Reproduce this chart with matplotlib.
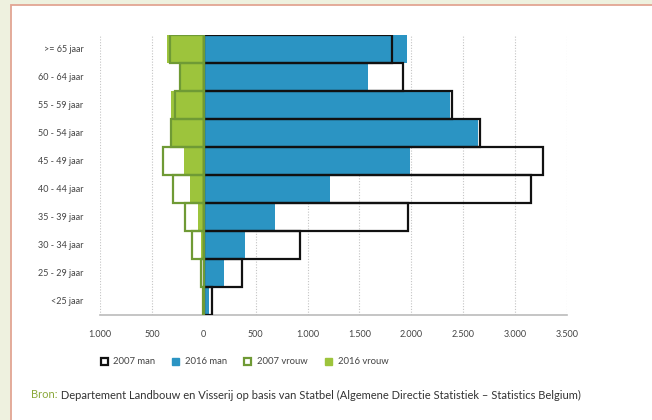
import matplotlib
matplotlib.use("Agg")
import matplotlib.pyplot as plt
from matplotlib.patches import Patch, Rectangle
from matplotlib.ticker import FuncFormatter, MultipleLocator
import numpy as np

plt.rcParams['font.family'] = ['Lato', 'DejaVu Sans']

# Age groups, top to bottom
categories = ['>= 65 jaar', '60 - 64 jaar', '55 - 59 jaar', '50 - 54 jaar', '45 - 49 jaar',
              '40 - 44 jaar', '35 - 39 jaar', '30 - 34 jaar', '25 - 29 jaar', '<25 jaar']
man_2007 = [1815, 1920, 2390, 2660, 3265, 3155, 1970, 930, 370, 75]
man_2016 = [1960, 1585, 2370, 2640, 1985, 1220, 685, 400, 195, 55]
vrouw_2007 = [330, 225, 275, 315, 390, 300, 185, 110, 25, 10]
vrouw_2016 = [350, 240, 315, 310, 190, 135, 55, 25, 10, 5]
series_labels = ['2007 man', '2016 man', '2007 vrouw', '2016 vrouw']

BLUE = '#2b94c3'
GREEN = '#9dc43c'
GREEN_EDGE = '#6f9a35'
TEXT = '#444444'

fig = plt.figure(figsize=(6.52, 4.20), dpi=100)
fig.patch.set_facecolor('#eef1df')
# white page with salmon border on the left and top
page = Rectangle((11 / 652, -0.05), 1.0, 0.05 + 415 / 420,
                 transform=fig.transFigure, facecolor='white',
                 edgecolor='#e2a593', linewidth=1.3, zorder=-10)
fig.patches.append(page)

ax = fig.add_axes([100 / 652, 1 - 315 / 420, 467 / 652, 280 / 420])
ax.set_facecolor('none')

y = np.arange(len(categories))
h = 1.0

# filled 2016 bars
ax.barh(y, man_2016, height=h, color=BLUE, linewidth=0, zorder=2)
ax.barh(y, -np.array(vrouw_2016), height=h, color=GREEN, linewidth=0, zorder=2)
# outlined 2007 bars on top
ax.barh(y, man_2007, height=h, facecolor='none', edgecolor='#111111', linewidth=1.6, zorder=3)
ax.barh(y, -np.array(vrouw_2007), height=h, facecolor='none', edgecolor=GREEN_EDGE, linewidth=1.6, zorder=3)

ax.set_xlim(-1000, 3500)
ax.set_ylim(len(categories) - 0.5, -0.5)
ax.xaxis.set_major_locator(MultipleLocator(500))
ax.xaxis.set_major_formatter(FuncFormatter(lambda v, p: f"{abs(int(round(v))):,}".replace(',', '.')))
ax.set_yticks(y)
ax.set_yticklabels(categories)

ax.grid(axis='x', color='#c4c4c4', linewidth=0.8, linestyle=(0, (1, 1.5)), zorder=1)
ax.set_axisbelow(True)
for s in ['top', 'right', 'left']:
    ax.spines[s].set_visible(False)
ax.spines['bottom'].set_color('#bbbbbb')
ax.spines['bottom'].set_linewidth(1.2)
ax.tick_params(axis='both', length=0, labelsize=6.5, labelcolor=TEXT)
ax.tick_params(axis='y', pad=12)
ax.tick_params(axis='x', pad=11)

handles = [
    Patch(facecolor='white', edgecolor='#111111', linewidth=1.6),
    Patch(facecolor=BLUE, edgecolor=BLUE),
    Patch(facecolor='white', edgecolor=GREEN_EDGE, linewidth=1.6),
    Patch(facecolor=GREEN, edgecolor=GREEN),
]
fig.legend(handles, series_labels, loc='center left', bbox_to_anchor=(92 / 652, 1 - 362 / 420),
           ncol=4, frameon=False, fontsize=6.8, handlelength=0.75, handleheight=0.75,
           handletextpad=0.6, columnspacing=1.8, labelcolor=TEXT)

src = fig.text(31 / 652, 1 - 395 / 420, 'Bron:', color='#8aa83a', fontsize=8.0, va='center')
ax.annotate(' Departement Landbouw en Visserij op basis van Statbel (Algemene Directie Statistiek \u2013 Statistics Belgium)',
            xy=(1, 0.5), xycoords=src, va='center', ha='left', color='#333333', fontsize=8.0,
            annotation_clip=False)

fig.savefig('out.png', dpi=100, facecolor=fig.get_facecolor())
